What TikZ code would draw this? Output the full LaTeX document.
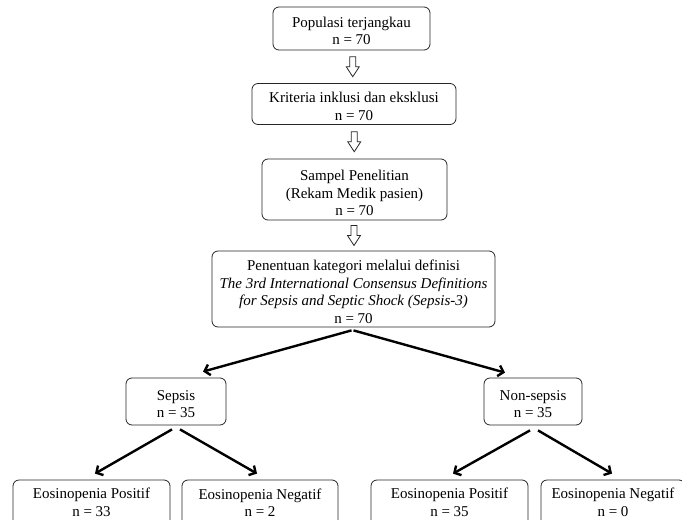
\documentclass[tikz,border=0pt]{standalone}
\usepackage{fontspec}
\setmainfont{Liberation Serif}
\usetikzlibrary{arrows.meta,calc}
\tikzset{
  box/.style={draw=black!85, line width=0.8pt, rounded corners=6pt, inner sep=0pt},
  txt/.style={align=center, inner sep=0pt, font=\fontsize{15}{17.5}\selectfont},
  hollow/.style={draw=black!85, line width=0.8pt, fill=white},
  thick arrow/.style={line width=2.4pt, -{Straight Barb[length=5pt,width=11pt]}},
}
\begin{document}
\begin{tikzpicture}[x=1pt,y=-1pt]
\useasboundingbox (0,0) rectangle (682,519);
\clip (0,0) rectangle (682,519);
\node[box, minimum width=157pt, minimum height=43pt] (pop) at (351.5,28.5) {};
\node[txt] (popt) at ($(pop.center)+(0,2.5)$) {Populasi terjangkau\\n = 70};
\node[box, minimum width=204pt, minimum height=41pt] (krit) at (354,104) {};
\node[txt] (kritt) at ($(krit.center)+(0,2.5)$) {Kriteria inklusi dan eksklusi\\n = 70};
\node[box, minimum width=185pt, minimum height=61pt] (samp) at (354.5,189.5) {};
\node[txt] (sampt) at ($(samp.center)+(0,3.5)$) {Sampel Penelitian\\(Rekam Medik pasien)\\n = 70};
\node[box, minimum width=283pt, minimum height=76pt] (pen) at (353.5,289) {};
\node[txt] (pent) at ($(pen.center)+(0,3)$) {Penentuan kategori melalui definisi\\\textit{The 3rd International Consensus Definitions}\\\textit{for Sepsis and Septic Shock (Sepsis-3)}\\n = 70};
\node[box, minimum width=100pt, minimum height=47pt] (sep) at (176,401.5) {};
\node[txt] (sept) at ($(sep.center)+(0,2.5)$) {Sepsis\\n = 35};
\node[box, minimum width=98pt, minimum height=47pt] (non) at (533,401.5) {};
\node[txt] (nont) at ($(non.center)+(0,2.5)$) {Non-sepsis\\n = 35};
\node[box, minimum width=157pt, minimum height=50pt] (ep1) at (91.5,505) {};
\node[txt] (ep1t) at ($(ep1.center)+(0,-2.5)$) {Eosinopenia Positif\\n = 33};
\node[box, minimum width=156pt, minimum height=50pt] (en1) at (260,505) {};
\node[txt] (en1t) at ($(en1.center)+(0,-2.5)$) {Eosinopenia Negatif\\n = 2};
\node[box, minimum width=157pt, minimum height=50pt] (ep2) at (449.5,505) {};
\node[txt] (ep2t) at ($(ep2.center)+(0,-2.5)$) {Eosinopenia Positif\\n = 35};
\node[box, minimum width=144pt, minimum height=50pt] (en2) at (613,505) {};
\node[txt] (en2t) at ($(en2.center)+(0,-2.5)$) {Eosinopenia Negatif\\n = 0};
% hollow block arrows
\foreach \a/\b in {pop/krit, krit/samp, samp/pen}{
  \draw[hollow] ($(\a.south)!0.5!(\b.north)$) ++(-3,-10) -- ++(6,0) -- ++(0,10) -- ++(3.5,0) -- ++(-6.5,10) -- ++(-6.5,-10) -- ++(3.5,0) -- cycle;
}
% black arrows
\draw[thick arrow] ($(pen.south)+(-2,3)$) -- ($(sep.north)+(27,-6)$);
\draw[thick arrow] ($(pen.south)+(0,3)$) -- ($(non.north)+(-28,-5)$);
\draw[thick arrow] ($(sep.south)+(-4,4)$) -- ($(ep1.north)+(3.5,-6)$);
\draw[thick arrow] ($(sep.south)+(4,4)$) -- ($(en1.north)+(-3,-6)$);
\draw[thick arrow] ($(non.south)+(-3,5)$) -- ($(ep2.north)+(3.5,-6)$);
\draw[thick arrow] ($(non.south)+(5,5)$) -- ($(en2.north)+(-1,-6)$);
\end{tikzpicture}
\end{document}
